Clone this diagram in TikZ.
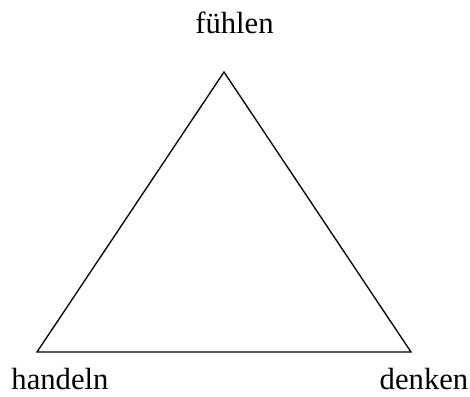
\documentclass[tikz,border=0pt]{standalone}
\usepackage{fontspec}
\setmainfont{Liberation Serif}
\begin{document}
\begin{tikzpicture}[x=0.75pt,y=-0.75pt,font=\fontsize{23}{27}\selectfont,
    every node/.style={anchor=base,inner sep=0pt}]
    \useasboundingbox (0,0) rectangle (470,396);
    \coordinate (top) at (224,72);
    \coordinate (left) at (37,352);
    \coordinate (right) at (411,352);
    \draw[line width=1pt,line join=miter] (top) -- (right) -- (left) -- cycle;
    \node (fuehlen) at (234.5,33) {fühlen};
    \node (handeln) at (60,389) {handeln};
    \node (denken) at (424,389) {denken};
  \end{tikzpicture}
\end{document}
